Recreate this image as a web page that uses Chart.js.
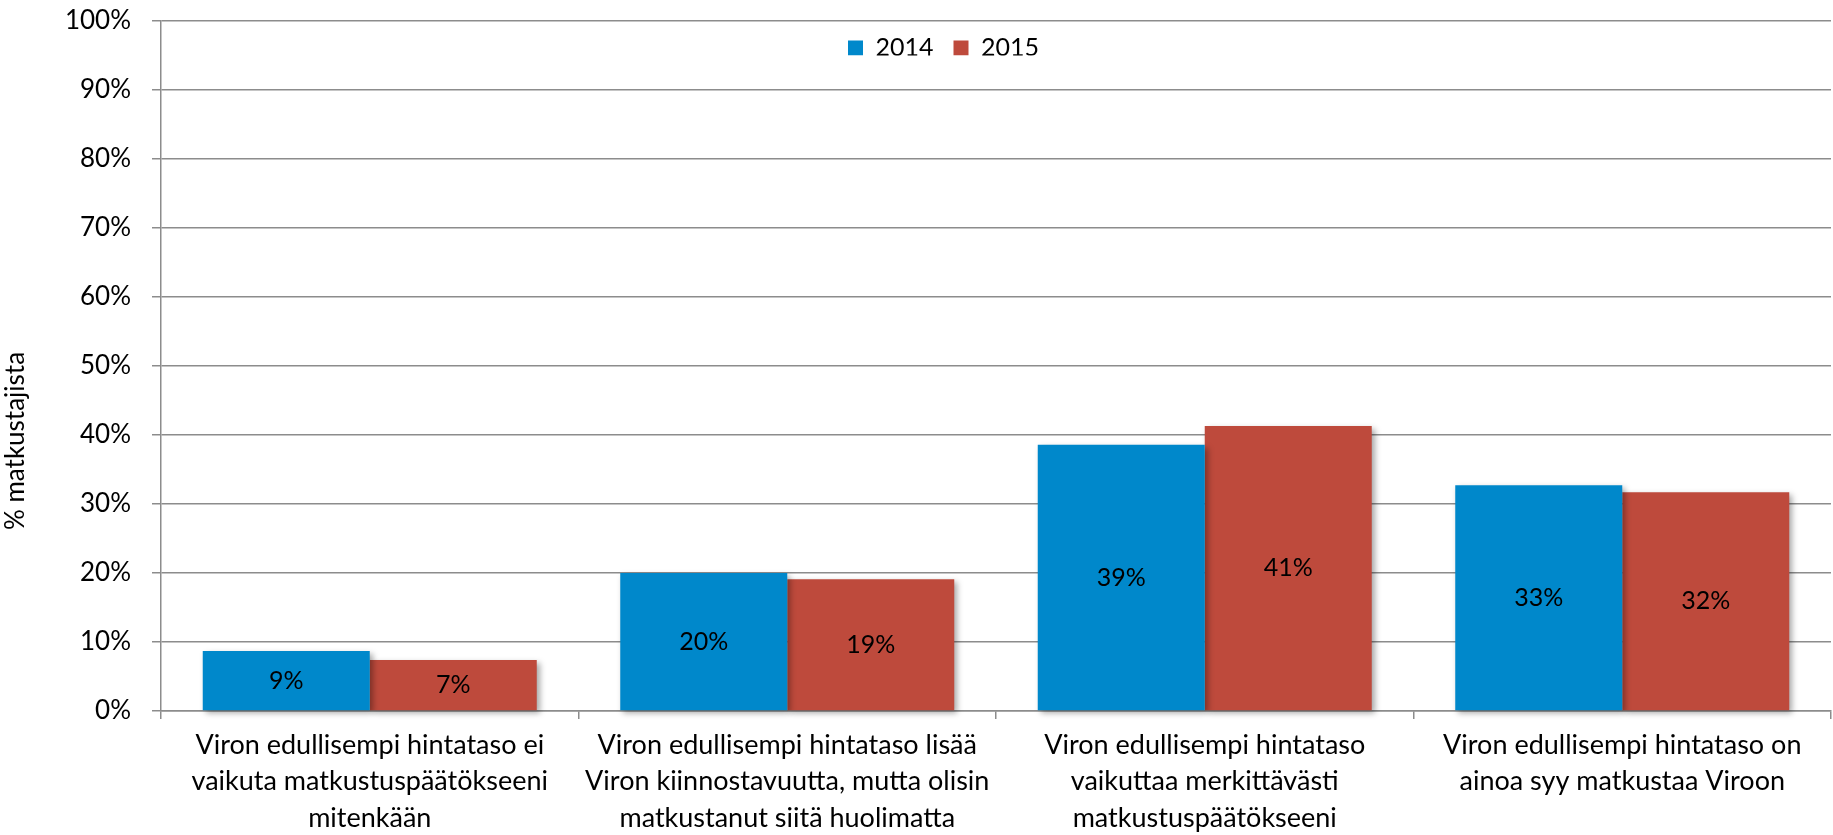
<!DOCTYPE html>
<html>
<head>
<meta charset="utf-8">
<script src="https://cdn.jsdelivr.net/npm/chart.js@4"></script>
<style>
  html, body { margin: 0; padding: 0; background: #fff; }
  #wrap { width: 1833px; height: 835px; position: relative; }
</style>
</head>
<body>
<div id="wrap"><canvas id="c"></canvas></div>
<script>
// ---- data ----
const categories = [
  ["Viron edullisempi hintataso ei", "vaikuta matkustuspäätökseeni", "mitenkään"],
  ["Viron edullisempi hintataso lisää", "Viron kiinnostavuutta, mutta olisin", "matkustanut siitä huolimatta"],
  ["Viron edullisempi hintataso", "vaikuttaa merkittävästi", "matkustuspäätökseeni"],
  ["Viron edullisempi hintataso on", "ainoa syy matkustaa Viroon"]
];
const seriesNames = ["2014", "2015"];
const values2014 = [8.7, 20.0, 38.6, 32.7];
const values2015 = [7.4, 19.1, 41.3, 31.7];
const yTicks = [0, 10, 20, 30, 40, 50, 60, 70, 80, 90, 100];
const yTitle = "% matkustajista";

// ---- styles ----
const FONT = 'Lato';
const GRID = '#8c8c8c';
const colors = ['#0088CB', '#BE4A3C'];

Chart.defaults.font.family = FONT;
Chart.defaults.font.size = 25;
Chart.defaults.color = '#000';

const layoutPlugin = {
  id: 'layoutTweaks',
  beforeInit(chart) {
    const lg = chart.legend;
    if (lg) {
      const fit = lg.fit.bind(lg);
      lg.fit = function () { fit(); this.height = 0; };
    }
  },
  afterLayout(chart) {
    const lg = chart.legend;
    if (lg) {
      const pad = lg.options.labels.padding;
      lg.left = 848 - pad;
      lg.right = lg.left + 420;
      lg.width = 420;
      lg.top = 35.5 - pad;
      lg.bottom = lg.top + 40;
    }
    const s = chart.scales.y;
    if (s && !s._titleWrapped) {
      const orig = s.drawTitle.bind(s);
      s.drawTitle = function () {
        const t = this.top;
        this.top = t + 150;
        orig();
        this.top = t;
      };
      s._titleWrapped = true;
    }
  },
  beforeDatasetsDraw(chart) {
    const ctx = chart.ctx;
    ctx.save();
    ctx.shadowColor = 'rgba(0,0,0,0.35)';
    ctx.shadowBlur = 6;
    ctx.shadowOffsetX = 3;
    ctx.shadowOffsetY = 3;
  },
  afterDatasetsDraw(chart) {
    const ctx = chart.ctx;
    ctx.restore();
    ctx.save();
    ctx.font = '25px ' + FONT;
    ctx.fillStyle = '#000';
    ctx.textAlign = 'center';
    ctx.textBaseline = 'middle';
    chart.data.datasets.forEach((ds, di) => {
      const meta = chart.getDatasetMeta(di);
      meta.data.forEach((bar, i) => {
        const v = ds.data[i];
        ctx.fillText(Math.round(v) + '%', bar.x, (bar.y + bar.base) / 2);
      });
    });
    ctx.restore();
  }
};

new Chart(document.getElementById('c'), {
  type: 'bar',
  data: {
    labels: categories,
    datasets: [
      { label: seriesNames[0], data: values2014, backgroundColor: colors[0], clip: false },
      { label: seriesNames[1], data: values2015, backgroundColor: colors[1], clip: false }
    ]
  },
  options: {
    responsive: true,
    maintainAspectRatio: false,
    animation: false,
    layout: { padding: { left: 0, right: 2, top: 21, bottom: 0 } },
    datasets: { bar: { categoryPercentage: 0.8, barPercentage: 1.0 } },
    plugins: {
      legend: {
        display: true,
        position: 'top',
        align: 'start',
        labels: { boxWidth: 15, boxHeight: 15, padding: 20, font: { size: 25, family: FONT }, color: '#000' }
      },
      tooltip: { enabled: false }
    },
    scales: {
      x: {
        grid: {
          offset: true,
          drawOnChartArea: true,
          color: (c) => (c.index === categories.length ? GRID : 'rgba(0,0,0,0)'),
          tickColor: GRID,
          tickLength: 8,
          lineWidth: 1.5
        },
        border: { display: true, color: GRID, width: 1.5 },
        ticks: {
          autoSkip: false,
          maxRotation: 0,
          minRotation: 0,
          padding: 8,
          color: '#000',
          font: { size: 27, family: FONT, lineHeight: 1.352 }
        },
        afterFit(scale) { scale.height = 124; }
      },
      y: {
        min: 0,
        max: 100,
        afterBuildTicks(scale) { scale.ticks = yTicks.map(v => ({ value: v })); },
        grid: { color: GRID, tickColor: GRID, tickLength: 9, lineWidth: 1.5 },
        border: { display: true, color: GRID, width: 1.5 },
        ticks: {
          padding: 21,
          color: '#000',
          font: { size: 26, family: FONT },
          callback: (v) => v + '%'
        },
        title: {
          display: true,
          text: yTitle,
          color: '#000',
          font: { size: 26, family: FONT },
          padding: { top: 0, bottom: 0 }
        },
        afterFit(scale) { scale.width = 161; scale.paddingTop = 0; scale.paddingBottom = 0; }
      }
    }
  },
  plugins: [layoutPlugin]
});
</script>
</body>
</html>
